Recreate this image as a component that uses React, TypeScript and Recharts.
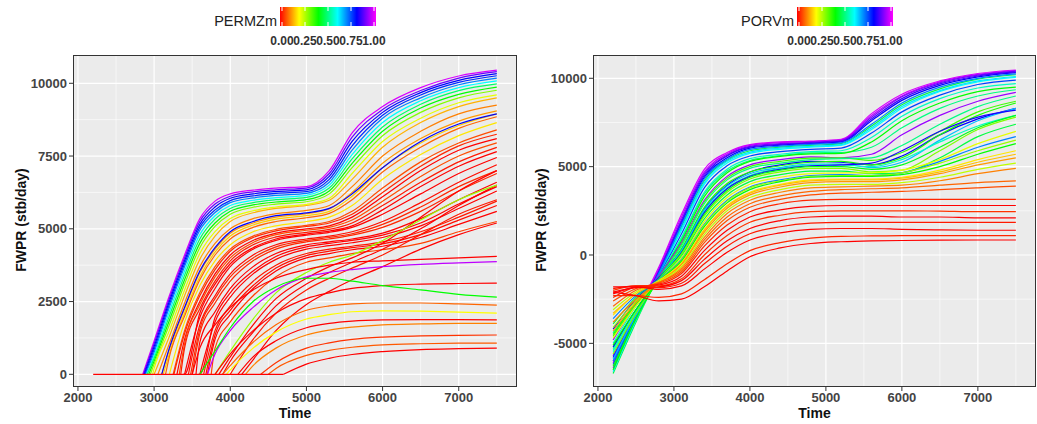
import React from 'react'
import { LineChart, Line, XAxis, YAxis, CartesianGrid } from 'recharts'

// time grid for the PERMZm runs (each run is 0 until its start time)
const leftTimes = [3000, 3200, 3400, 3600, 3800, 4000, 4300, 4600, 5000, 5300, 5600, 6000, 6500, 7000, 7500]

const permzValues = [
  0.97, 0.88, 0.8, 0.77, 0.7, 0.6, 0.48, 0.4, 0.3, 0.22, 0.14, 0.1, 0.12, 0.16, 0.08, 0.18, 0.06,
  0.03, 0, 0.06, 0.02, 0, 0, 0.01, 0.03, 0.03, 0, 0, 0, 0.02, 0.01, 0, 0.05,
  0, 0, 0.02, 0, 0.28, 0.8,
  0, 0.95, 0, 0.4, 0.08, 0.2, 0, 0.1, 0.04, 0.07, 0,
]

const permzStart = [
  2850, 2860, 2870, 2880, 2890, 2900, 2910, 2930, 2950, 2980, 3000, 3050, 3100, 3120, 3150, 3200, 3250,
  3260, 3300, 3330, 3350, 3380, 3400, 3450, 3480, 3500, 3550, 3580, 3600, 3650, 3680, 3700, 3750,
  3850, 3900, 4000, 4150, 3800, 3100,
  3500, 3700, 3800, 3600, 3900, 3950, 4100, 4200, 4400, 4500, 4700,
]

const permzRuns = [
  [1150, 2700, 4100, 5350, 5950, 6200, 6330, 6400, 6450, 7000, 8300, 9200, 9850, 10250, 10450],
  [1050, 2600, 4000, 5250, 5850, 6120, 6270, 6340, 6400, 6900, 8150, 9100, 9750, 10180, 10400],
  [950, 2500, 3900, 5150, 5750, 6050, 6200, 6280, 6340, 6800, 8000, 9000, 9680, 10100, 10330],
  [850, 2400, 3800, 5050, 5650, 5970, 6130, 6220, 6280, 6700, 7850, 8900, 9600, 10030, 10260],
  [750, 2300, 3700, 4950, 5560, 5900, 6060, 6150, 6220, 6600, 7700, 8800, 9500, 9950, 10180],
  [650, 2150, 3550, 4800, 5450, 5800, 5980, 6070, 6150, 6500, 7550, 8650, 9400, 9850, 10080],
  [550, 2000, 3400, 4650, 5330, 5700, 5900, 6000, 6080, 6400, 7400, 8500, 9280, 9750, 9980],
  [450, 1850, 3250, 4500, 5200, 5600, 5820, 5920, 6000, 6300, 7250, 8350, 9150, 9620, 9870],
  [350, 1700, 3100, 4350, 5080, 5500, 5740, 5850, 5930, 6200, 7100, 8200, 9000, 9500, 9760],
  [200, 1500, 2900, 4150, 4900, 5350, 5620, 5750, 5840, 6050, 6900, 8000, 8800, 9330, 9600],
  [0, 1300, 2700, 3950, 4750, 5250, 5550, 5700, 5800, 5980, 6700, 7800, 8650, 9200, 9500],
  [0, 1050, 2450, 3700, 4500, 5000, 5350, 5520, 5630, 5800, 6450, 7500, 8350, 8950, 9250],
  [0, 850, 2250, 3500, 4300, 4850, 5200, 5400, 5520, 5680, 6250, 7250, 8100, 8700, 9050],
  [0, 700, 2100, 3350, 4200, 4750, 5130, 5330, 5450, 5600, 6120, 7100, 7950, 8550, 8950],
  [0, 600, 2000, 3250, 4100, 4650, 5050, 5250, 5380, 5530, 6000, 6950, 7800, 8450, 8850],
  [0, 0, 1800, 3050, 3900, 4450, 4900, 5100, 5250, 5400, 5800, 6700, 7550, 8200, 8650],
  [0, 0, 1500, 2800, 3700, 4300, 4750, 4980, 5120, 5250, 5600, 6400, 7300, 7950, 8400],
  [0, 0, 1400, 2700, 3600, 4230, 4700, 4930, 5080, 5200, 5500, 6250, 7150, 7850, 8250],
  [0, 0, 1200, 2500, 3450, 4100, 4600, 4850, 5000, 5100, 5400, 6100, 7000, 7700, 8100],
  [0, 0, 1050, 2400, 3350, 4000, 4530, 4800, 4950, 5050, 5300, 5950, 6800, 7500, 7950],
  [0, 0, 900, 2250, 3200, 3900, 4450, 4720, 4880, 4980, 5200, 5800, 6600, 7300, 7800],
  [0, 0, 0, 2100, 3100, 3800, 4350, 4650, 4820, 4920, 5100, 5650, 6450, 7150, 7650],
  [0, 0, 0, 1950, 2950, 3700, 4300, 4600, 4780, 4880, 5050, 5500, 6200, 6900, 7450],
  [0, 0, 0, 1700, 2700, 3450, 4100, 4450, 4650, 4750, 4900, 5250, 5900, 6600, 7200],
  [0, 0, 0, 1550, 2600, 3350, 4000, 4380, 4600, 4700, 4830, 5150, 5750, 6450, 7000],
  [0, 0, 0, 1400, 2450, 3200, 3900, 4300, 4550, 4650, 4780, 5050, 5600, 6300, 6900],
  [0, 0, 0, 1100, 2150, 2950, 3700, 4150, 4450, 4550, 4650, 4850, 5350, 6000, 6600],
  [0, 0, 0, 0, 1950, 2800, 3550, 4050, 4380, 4500, 4600, 4780, 5200, 5850, 6450],
  [0, 0, 0, 0, 1800, 2650, 3450, 3950, 4300, 4420, 4520, 4700, 5100, 5700, 6300],
  [0, 0, 0, 0, 1500, 2350, 3200, 3750, 4150, 4300, 4400, 4550, 4900, 5400, 5950],
  [0, 0, 0, 0, 1350, 2200, 3050, 3650, 4080, 4230, 4350, 4480, 4800, 5300, 5800],
  [0, 0, 0, 0, 1200, 2050, 2950, 3550, 4000, 4150, 4280, 4400, 4700, 5150, 5600],
  [0, 0, 0, 0, 900, 1800, 2700, 3350, 3850, 4000, 4150, 4280, 4500, 4900, 5250],
  [0, 0, 0, 0, 0, 600, 1700, 2600, 3300, 3700, 4000, 4500, 5400, 6300, 7000],
  [0, 0, 0, 0, 0, 450, 1450, 2350, 3100, 3500, 3850, 4300, 5000, 5800, 6500],
  [0, 0, 0, 0, 0, 0, 1200, 2100, 2900, 3300, 3650, 4100, 4800, 5500, 6000],
  [0, 0, 0, 0, 0, 0, 500, 1500, 2400, 2850, 3250, 3700, 4300, 4800, 5200],
  [0, 0, 0, 0, 0, 800, 1900, 2800, 3500, 3850, 4100, 4600, 5300, 6000, 6500],
  [0, 900, 2300, 3550, 4350, 4900, 5250, 5450, 5550, 5700, 6200, 7100, 8000, 8600, 8950],
  [0, 0, 0, 900, 1700, 2300, 2900, 3300, 3600, 3750, 3850, 3900, 3950, 4000, 4050],
  [0, 0, 0, 0, 700, 1500, 2300, 2900, 3350, 3500, 3600, 3700, 3780, 3830, 3870],
  [0, 0, 0, 0, 0, 700, 1500, 2100, 2600, 2800, 2950, 3050, 3100, 3120, 3130],
  [0, 0, 0, 0, 800, 1600, 2500, 3000, 3300, 3300, 3200, 3050, 2900, 2750, 2650],
  [0, 0, 0, 0, 0, 300, 1100, 1700, 2200, 2350, 2420, 2450, 2450, 2420, 2380],
  [0, 0, 0, 0, 0, 150, 900, 1450, 1900, 2050, 2150, 2180, 2170, 2140, 2100],
  [0, 0, 0, 0, 0, 0, 600, 1150, 1600, 1750, 1830, 1870, 1880, 1880, 1870],
  [0, 0, 0, 0, 0, 0, 300, 900, 1350, 1520, 1620, 1700, 1730, 1750, 1750],
  [0, 0, 0, 0, 0, 0, 0, 400, 900, 1080, 1200, 1280, 1320, 1340, 1350],
  [0, 0, 0, 0, 0, 0, 0, 200, 650, 820, 930, 1010, 1050, 1070, 1075],
  [0, 0, 0, 0, 0, 0, 0, 0, 350, 550, 680, 780, 850, 880, 900],
]

// PORVm runs, all on the same time grid
const rightTimes = [2200, 2500, 2800, 3100, 3400, 3700, 4000, 4400, 4800, 5200, 5600, 6000, 6500, 7000, 7500]

const porvValues = [
  0.97, 0.95, 0.9, 0.8, 0.85, 0.45, 0.6, 0.62, 0.7, 0.75, 0.55, 0.5, 0.4, 0.92, 0.35, 0.5, 0.8, 0.38,
  0.65, 0.55, 0.82, 0.42, 0.3, 0.45, 0.22, 0.7, 0.28, 0.4, 0.18, 0.15, 0.12, 0.25, 0.1, 0.08, 0.06,
  0.03, 0, 0.04, 0, 0.02, 0, 0.03, 0,
]

const porvRuns = [
  [-6000, -3300, -700, 2300, 4850, 5800, 6250, 6400, 6450, 6550, 8000, 9100, 9850, 10270, 10470],
  [-6100, -3400, -800, 2150, 4700, 5720, 6200, 6360, 6420, 6520, 7900, 9000, 9800, 10220, 10440],
  [-6400, -3600, -900, 2000, 4600, 5650, 6150, 6300, 6380, 6480, 7800, 8950, 9750, 10180, 10400],
  [-5800, -3400, -1000, 1800, 4400, 5500, 6050, 6220, 6300, 6400, 7600, 8750, 9600, 10080, 10320],
  [-5700, -3300, -950, 1900, 4500, 5600, 6100, 6260, 6340, 6440, 7700, 8850, 9680, 10130, 10360],
  [-6700, -3800, -1100, 1600, 4200, 5350, 5900, 6100, 6200, 6300, 7300, 8500, 9400, 9950, 10200],
  [-5500, -3200, -1100, 1400, 4000, 5200, 5750, 5980, 6100, 6200, 7100, 8300, 9250, 9800, 10050],
  [-6600, -3700, -1150, 1500, 4100, 5300, 5820, 6050, 6150, 6250, 7200, 8400, 9300, 9850, 10100],
  [-6000, -3450, -1050, 1700, 4300, 5420, 5980, 6160, 6260, 6350, 7400, 8600, 9500, 10000, 10250],
  [-6200, -3500, -1200, 1200, 3800, 5050, 5600, 5850, 5980, 6050, 6900, 8100, 9050, 9650, 9900],
  [-5000, -2900, -1200, 1000, 3550, 4850, 5450, 5700, 5850, 5900, 6650, 7850, 8850, 9450, 9700],
  [-4400, -2700, -1250, 900, 3450, 4750, 5350, 5620, 5780, 5800, 6100, 7200, 8300, 9000, 9350],
  [-6500, -3600, -1300, 800, 3300, 4650, 5300, 5580, 5720, 5750, 6400, 7600, 8600, 9250, 9500],
  [-4800, -2800, -1200, 700, 3100, 4450, 5100, 5400, 5550, 5500, 5700, 6800, 7900, 8700, 9200],
  [-4600, -2800, -1300, 600, 3000, 4350, 5000, 5300, 5480, 5500, 5350, 5800, 7000, 8100, 8700],
  [-5300, -3100, -1300, 500, 2900, 4250, 4900, 5200, 5400, 5450, 5500, 6200, 7400, 8400, 9000],
  [-5200, -3100, -1350, 300, 2600, 3950, 4700, 5100, 5300, 5250, 5100, 5600, 6800, 7700, 8300],
  [-4500, -2700, -1300, 350, 2700, 4050, 4700, 5050, 5250, 5300, 5100, 5500, 6800, 7900, 8600],
  [-5900, -3400, -1350, 250, 2550, 3900, 4600, 4950, 5150, 5150, 4950, 5250, 6500, 7600, 8300],
  [-5400, -3200, -1350, 200, 2450, 3800, 4500, 4900, 5100, 5100, 5000, 5400, 6400, 7300, 7900],
  [-4200, -2500, -1300, 150, 2400, 3750, 4450, 4850, 5050, 5100, 5200, 5900, 7000, 7800, 8200],
  [-6300, -3600, -1400, 100, 2300, 3650, 4400, 4800, 5000, 5000, 4850, 5100, 6100, 7200, 7900],
  [-5600, -3300, -1400, 50, 2200, 3550, 4300, 4700, 4900, 4900, 4700, 4800, 5900, 7100, 7800],
  [-3900, -2400, -1350, -50, 2050, 3400, 4150, 4550, 4750, 4750, 4600, 4650, 5500, 6700, 7400],
  [-4700, -2900, -1450, -150, 1900, 3250, 4000, 4400, 4600, 4650, 4650, 4800, 5400, 6300, 7000],
  [-3600, -2300, -1400, -250, 1750, 3100, 3850, 4250, 4500, 4550, 4500, 4650, 5300, 6100, 6700],
  [-4100, -2600, -1450, -300, 1700, 3050, 3800, 4200, 4450, 4500, 4500, 4650, 5200, 5900, 6500],
  [-5100, -3100, -1500, -350, 1600, 2950, 3700, 4150, 4400, 4450, 4450, 4550, 5000, 5700, 6300],
  [-3400, -2200, -1450, -450, 1450, 2800, 3550, 4000, 4250, 4300, 4300, 4400, 4800, 5400, 5900],
  [-3300, -2200, -1500, -500, 1400, 2750, 3500, 3950, 4200, 4250, 4250, 4350, 4700, 5250, 5700],
  [-4300, -2700, -1550, -550, 1300, 2650, 3400, 3850, 4100, 4150, 4150, 4250, 4600, 5100, 5500],
  [-3100, -2100, -1500, -650, 1150, 2500, 3250, 3700, 3950, 4000, 4000, 4100, 4400, 4850, 5200],
  [-3800, -2500, -1600, -750, 1000, 2350, 3100, 3550, 3800, 3850, 3900, 3950, 4200, 4600, 4900],
  [-2900, -2000, -1550, -850, 850, 2150, 2900, 3350, 3600, 3700, 3750, 3800, 3950, 4100, 4200],
  [-2600, -1900, -1600, -950, 700, 1950, 2700, 3150, 3400, 3500, 3550, 3600, 3700, 3800, 3900],
  [-2400, -1800, -1650, -1050, 500, 1700, 2450, 2900, 3100, 3150, 3150, 3150, 3150, 3150, 3150],
  [-2200, -1800, -1700, -1200, 250, 1400, 2150, 2550, 2750, 2800, 2800, 2800, 2800, 2800, 2800],
  [-2000, -1750, -1750, -1350, 0, 1100, 1850, 2250, 2450, 2500, 2500, 2500, 2480, 2450, 2450],
  [-2100, -1850, -1800, -1450, -250, 800, 1500, 1950, 2150, 2200, 2200, 2150, 2150, 2100, 2100],
  [-1900, -1750, -1850, -1600, -500, 500, 1200, 1600, 1800, 1850, 1850, 1850, 1850, 1850, 1850],
  [-1800, -1800, -1950, -1750, -800, 150, 850, 1250, 1450, 1500, 1500, 1450, 1420, 1400, 1400],
  [-2300, -2300, -2400, -2200, -1400, -500, 250, 700, 950, 1050, 1080, 1100, 1100, 1100, 1100],
  [-2100, -2300, -2600, -2500, -1800, -900, -100, 400, 650, 750, 800, 820, 840, 850, 850],
]

const timeTicks = [2000, 3000, 4000, 5000, 6000, 7000]
const timeMinor = [2500, 3500, 4500, 5500, 6500, 7500]
const leftTicks = [0, 2500, 5000, 7500, 10000]
const leftMinor = [1250, 3750, 6250, 8750]
const rightTicks = [-5000, 0, 5000, 10000]
const rightMinor = [-2500, 2500, 7500]
const legendLabels = ['0.00', '0.25', '0.50', '0.75', '1.00']

const FONT = "'Liberation Sans', Arial, sans-serif"

const rainbow = (p: number) => `hsl(${Math.round(p * 300)}, 100%, 50%)`

// rising part of each run starts at its own start time; the flat zero part is drawn once below
const permzSeries = permzRuns.map((run, i) => {
  const t0 = permzStart[i]
  const pts = [{ t: t0, v: 0 }]
  run.forEach((v, j) => {
    if (leftTimes[j] > t0) pts.push({ t: leftTimes[j], v })
  })
  return { color: rainbow(permzValues[i]), pts }
})
permzSeries.push({
  color: rainbow(0),
  pts: [
    { t: 2200, v: 0 },
    { t: Math.max(...permzStart), v: 0 },
  ],
})

const porvSeries = porvRuns.map((run, i) => ({
  color: rainbow(porvValues[i]),
  pts: run.map((v, j) => ({ t: rightTimes[j], v })),
}))

const tickStyle = { fontSize: 13, fontWeight: 700, fill: '#444', fontFamily: FONT }

function Panel({ x, width, rightMargin, series, yDomain, yTicks, yMinor }: any) {
  const plotLeft = x + 73
  const plotWidth = width - 73 - rightMargin
  return (
    <>
      <div style={{ position: 'absolute', left: x, top: 0 }}>
        <LineChart width={width} height={424} margin={{ top: 55, right: rightMargin, bottom: 0, left: 0 }}>
          <CartesianGrid
            fill="#EBEBEB"
            stroke="#ffffff"
            strokeWidth={0.6}
            horizontalValues={yMinor}
            verticalValues={timeMinor}
          />
          <CartesianGrid stroke="#ffffff" strokeWidth={1.2} horizontalValues={yTicks} verticalValues={timeTicks} />
          <XAxis
            dataKey="t"
            type="number"
            domain={[1935, 7765]}
            ticks={timeTicks}
            interval={0}
            height={37}
            axisLine={false}
            tickSize={4}
            tickLine={{ stroke: '#333' }}
            tick={tickStyle}
          />
          <YAxis
            type="number"
            domain={yDomain}
            ticks={yTicks}
            interval={0}
            width={73}
            axisLine={false}
            tickSize={4}
            tickLine={{ stroke: '#333' }}
            tick={tickStyle}
          />
          {series.map((s: any, i: number) => (
            <Line
              key={i}
              data={s.pts}
              dataKey="v"
              type="monotone"
              stroke={s.color}
              strokeWidth={1.2}
              dot={false}
              activeDot={false}
              isAnimationActive={false}
            />
          ))}
        </LineChart>
      </div>
      <div
        style={{
          position: 'absolute',
          left: plotLeft,
          top: 55,
          width: plotWidth,
          height: 332,
          border: '1.2px solid #333',
          boxSizing: 'border-box',
          pointerEvents: 'none',
        }}
      />
      <div
        style={{
          position: 'absolute',
          left: plotLeft,
          width: plotWidth,
          top: 405,
          textAlign: 'center',
          fontFamily: FONT,
          fontWeight: 700,
          fontSize: 14,
          color: '#111',
        }}
      >
        Time
      </div>
      <div
        style={{
          position: 'absolute',
          left: x + 21 - 80,
          top: 221 - 9,
          width: 160,
          textAlign: 'center',
          transform: 'rotate(-90deg)',
          fontFamily: FONT,
          fontWeight: 700,
          fontSize: 14,
          color: '#111',
        }}
      >
        FWPR (stb/day)
      </div>
    </>
  )
}

function ColorBar({ barX, title, id }: any) {
  return (
    <>
      <div
        style={{
          position: 'absolute',
          left: barX - 203,
          top: 12,
          width: 200,
          textAlign: 'right',
          fontFamily: FONT,
          fontSize: 14.5,
          color: '#222',
          lineHeight: '18px',
        }}
      >
        {title}
      </div>
      <svg style={{ position: 'absolute', left: barX - 14, top: 0 }} width={124} height={52}>
        <defs>
          <linearGradient id={id} x1="0" y1="0" x2="1" y2="0">
            {[0, 60, 120, 180, 240, 300].map((h, i) => (
              <stop key={h} offset={i / 5} stopColor={`hsl(${h}, 100%, 50%)`} />
            ))}
          </linearGradient>
        </defs>
        <rect x={14} y={7} width={96} height={19} fill={`url(#${id})`} />
        {legendLabels.map((lab, i) => {
          const cx = 16 + i * 23
          return (
            <g key={lab}>
              <line x1={cx} x2={cx} y1={7} y2={11} stroke="#fff" strokeWidth={1} />
              <line x1={cx} x2={cx} y1={22} y2={26} stroke="#fff" strokeWidth={1} />
              <text
                x={cx}
                y={45}
                textAnchor="middle"
                fontFamily={FONT}
                fontSize={12}
                fontWeight={700}
                fill="#333"
              >
                {lab}
              </text>
            </g>
          )
        })}
      </svg>
    </>
  )
}

export default function App() {
  return (
    <div style={{ position: 'absolute', left: 0, top: 0, width: 1037, height: 424, background: '#fff', overflow: 'hidden' }}>
      <Panel
        x={0}
        width={530}
        rightMargin={13}
        series={permzSeries}
        yDomain={[-436, 10972]}
        yTicks={leftTicks}
        yMinor={leftMinor}
      />
      <Panel
        x={520}
        width={517}
        rightMargin={1}
        series={porvSeries}
        yDomain={[-7470, 11318]}
        yTicks={rightTicks}
        yMinor={rightMinor}
      />
      <ColorBar barX={280} title="PERMZm" id="gradLeft" />
      <ColorBar barX={797} title="PORVm" id="gradRight" />
    </div>
  )
}
